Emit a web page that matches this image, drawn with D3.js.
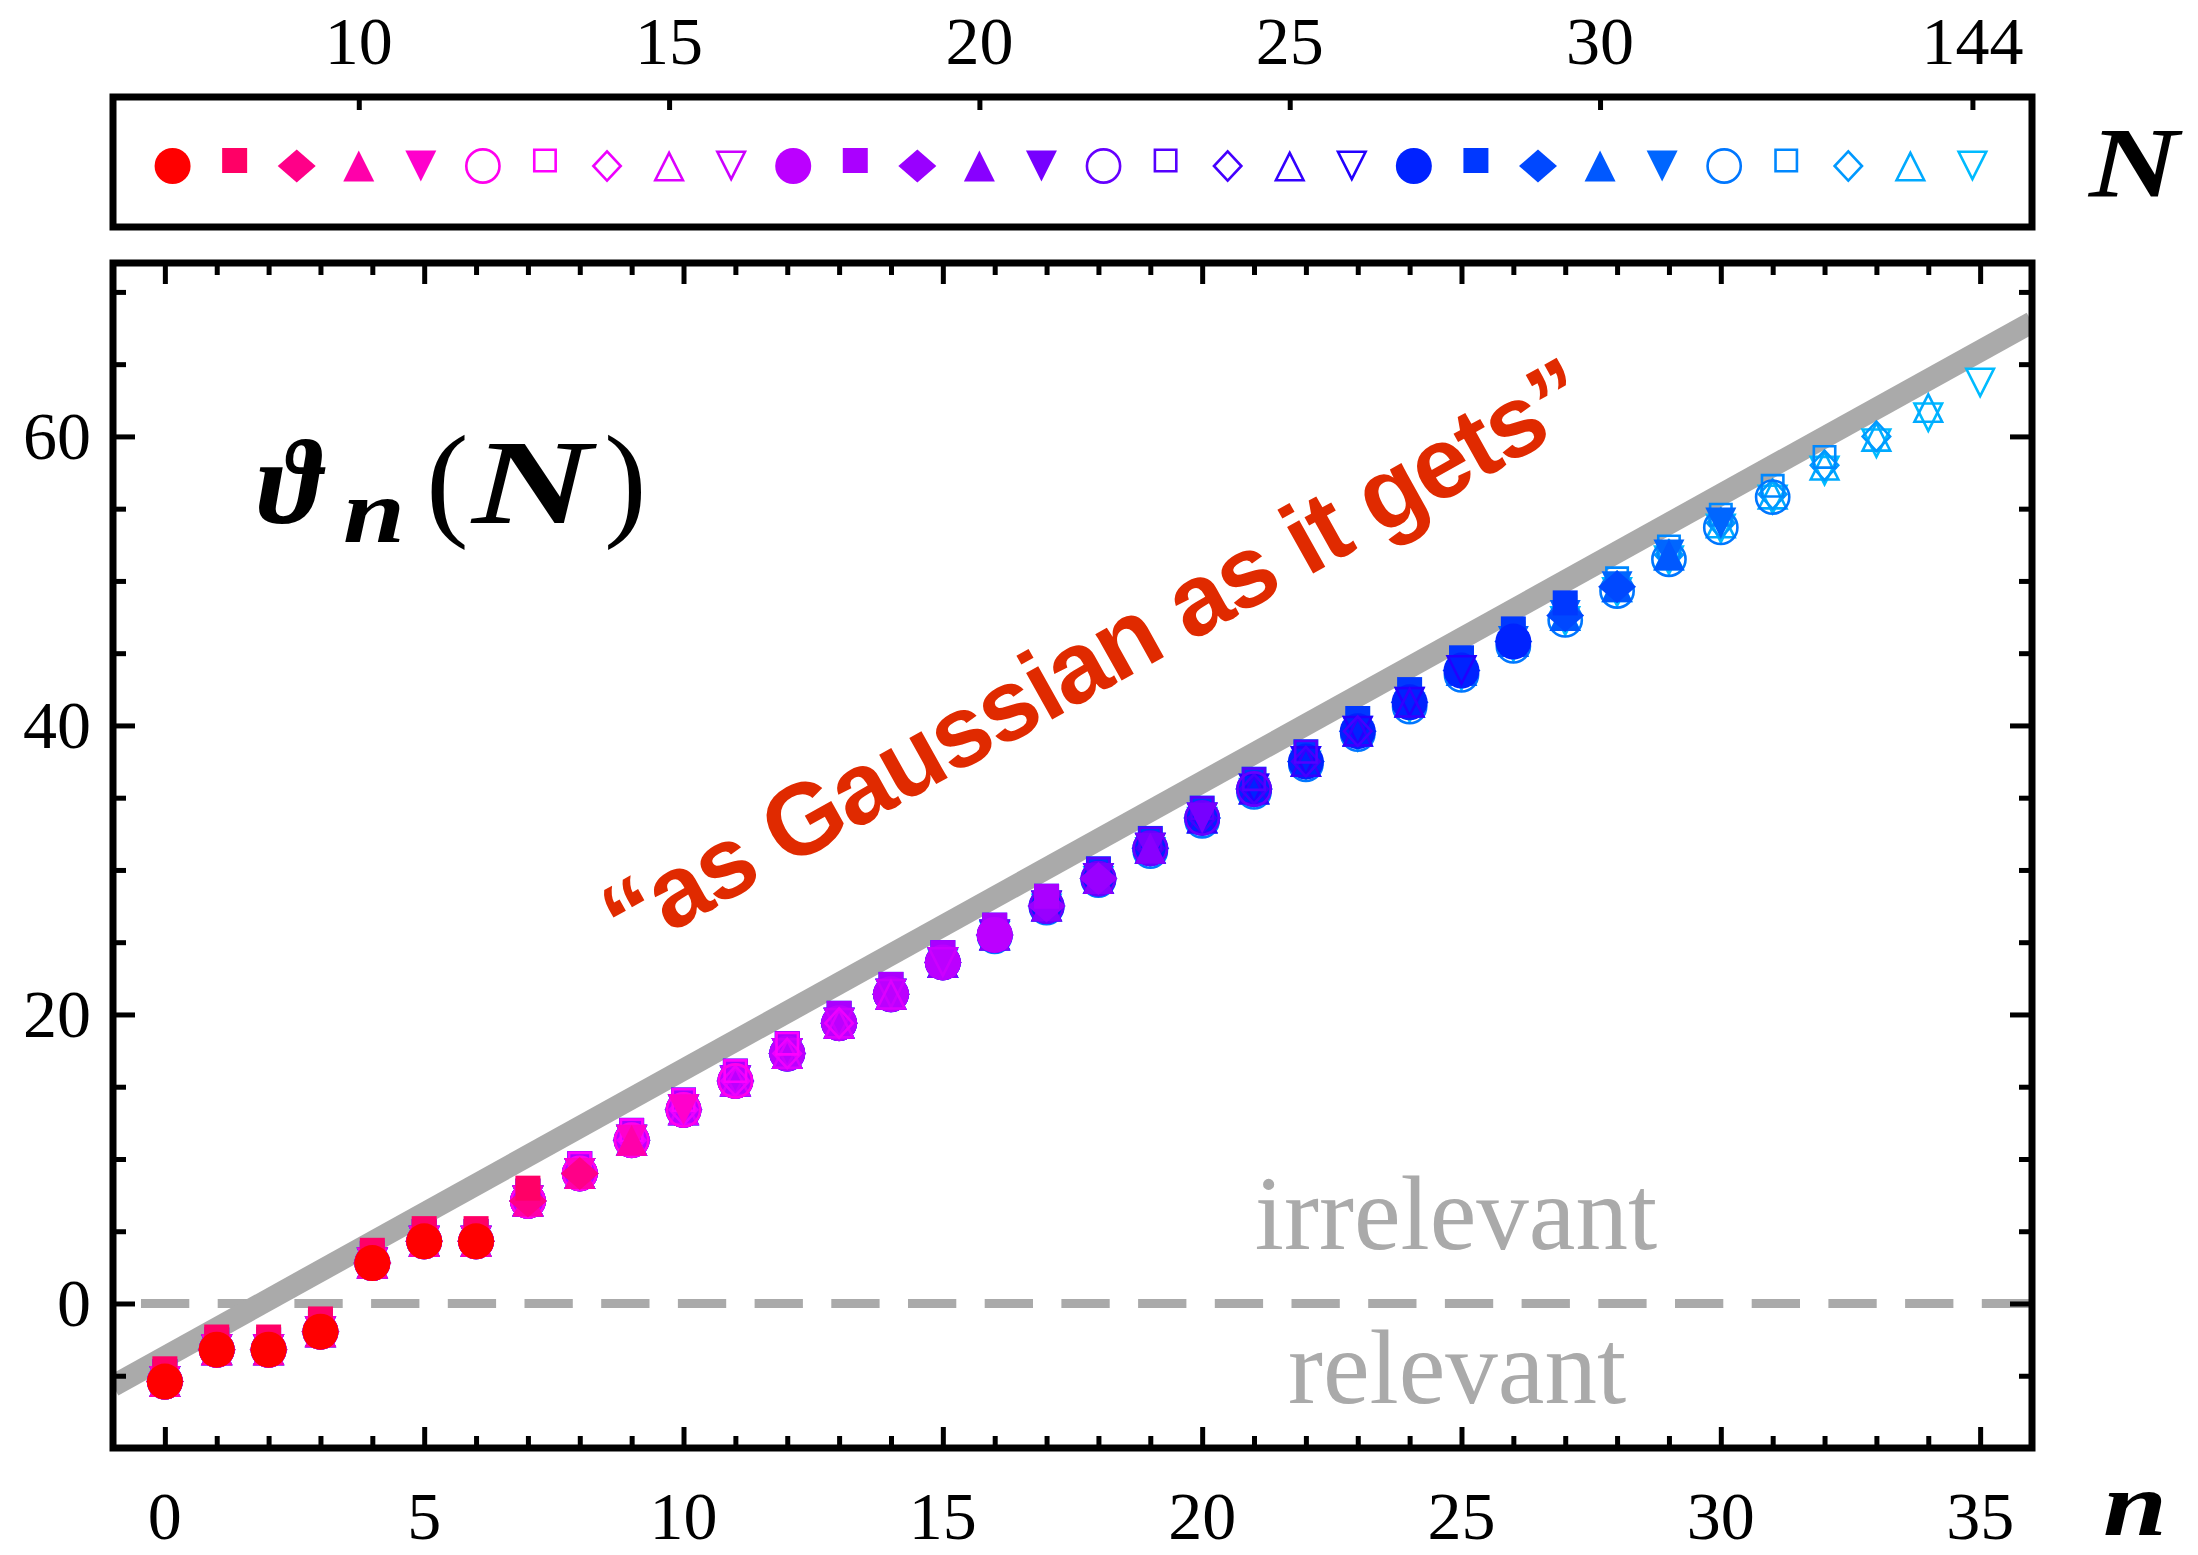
<!DOCTYPE html>
<html><head><meta charset="utf-8">
<script src="https://cdn.jsdelivr.net/npm/d3@7"></script>
<style>body{margin:0;background:#fff}svg{display:block}</style>
</head><body>
<svg id="chart" width="2198" height="1555"></svg>
<script>
// ---------------- data ----------------
const legendN = [7,8,9,10,11,12,13,14,15,16,17,18,19,20,21,22,23,24,25,26,27,28,29,30,31,32,33,34,35,144];
const legendTickN = [10,15,20,25,30,144];
const markerColors = ["#ff0000","#ff0066","#ff0088","#ff00aa","#ff00cc","#ff00ee","#ff00ff","#ee00ff","#dd00ff","#cc00ff",
  "#bb00ff","#aa00ff","#9900ff","#8800ff","#7700ff","#6600ff","#5500ff","#4400ff","#3300ff","#2200ff",
  "#0022ff","#0038ff","#0048ff","#0058ff","#0066ff","#0077ff","#0088ff","#0099ff","#00aaff","#00bbff"];
// values shared (indistinguishable) by most N, for n = 0..34
const thetaShared = [-5.4,-3.2,-3.2,-1.95,2.8,4.3,4.3,7.1,9.0,11.3,13.4,15.4,17.3,19.4,21.4,23.6,25.5,27.5,29.4,31.5,33.6,35.6,37.5,39.6,41.6,43.8,45.8,47.6,49.6,51.8,54.0,56.0,58.0,60.0,62.0];
const sharedN = [7,9,10,11,12,14,15,16,17,19,20,21,22,24,25,26,27,29,30,31,34,35];
const theta8 = [-4.9,-2.7,-2.7,-1.45,3.3,4.8,4.8,7.6];
const theta13 = [-5.1,-2.9,-2.9,-1.65,3.1,4.6,4.6,7.4,9.3,11.6,13.7,15.7,17.6];
const theta18 = [-5.1,-2.9,-2.9,-1.65,3.1,4.6,4.6,7.4,9.3,11.6,13.7,15.7,17.6,19.7,21.7,23.9,25.8,27.8];
const theta23 = [-5.1,-2.9,-2.9,-1.65,3.1,4.6,4.6,7.4,9.3,11.6,13.7,15.7,17.6,19.7,21.7,23.9,25.8,27.8,29.7,31.8,33.9,35.9,37.8];
const theta28 = [-5.1,-2.9,-2.9,-1.65,3.1,4.6,4.6,7.4,9.3,11.6,13.7,15.7,17.6,19.7,21.7,23.9,25.8,27.8,29.7,31.8,33.9,35.9,37.8,40.1,42.1,44.3,46.3,48.1];
const theta32 = [-5.4,-3.2,-3.2,-1.95,2.8,4.3,4.3,7.1,9.0,11.3,13.4,15.4,17.3,19.4,21.4,23.6,25.4,27.4,29.3,31.3,33.4,35.4,37.3,39.4,41.3,43.5,45.5,47.3,49.3,51.5,53.7,55.8];
const theta33 = [-5.2,-3.0,-3.0,-1.75,3.0,4.5,4.5,7.3,9.2,11.5,13.6,15.6,17.5,19.6,21.6,23.8,25.7,27.7,29.6,31.7,33.8,35.8,37.7,39.8,41.8,44.0,46.0,47.8,49.8,52.0,54.2,56.2,58.2];
const theta144 = [-5.4,-3.2,-3.2,-1.95,2.8,4.3,4.3,7.1,9.0,11.3,13.4,15.4,17.3,19.4,21.4,23.5,25.4,27.3,29.2,31.2,33.3,35.3,37.2,39.2,41.2,43.4,45.4,47.2,49.2,51.4,53.6,55.6,57.6,59.5,61.3,63.7];
const lineN = [-1, 36];
const lineTheta = [-5.7, 67.9];
const xMajorTicks = [0,5,10,15,20,25,30,35];
const yMajorTicks = [0,20,40,60];
const yMinorTicks = [-5,5,10,15,25,30,35,45,50,55,65,70];

const explicitRows = {8:theta8,13:theta13,18:theta18,23:theta23,28:theta28,32:theta32,33:theta33,144:theta144};

// ---------------- setup ----------------
const svg = d3.select("#chart");
const L = 113, R = 2032, T = 263, B = 1448;
const x = d3.scaleLinear().domain([-1, 36]).range([L, R]);
const y = d3.scaleLinear().domain([-10, 72]).range([B, T]);
const lx = d3.scaleLinear().domain([-0.96, 29.96]).range([L, R]);
const serif = "'Liberation Serif','DejaVu Serif',serif";

function markerPath(i) {
  const s = i % 5, filled = (i % 10) < 5;
  const p = d3.path();
  if (filled) {
    if (s === 0) { p.moveTo(18, 0); p.arc(0, 0, 18, 0, 2 * Math.PI); }
    else if (s === 1) { p.rect(-12.5, -12.5, 25, 25); }
    else if (s === 2) { p.moveTo(0, -16.5); p.lineTo(19, 0); p.lineTo(0, 16.5); p.lineTo(-19, 0); }
    else if (s === 3) { p.moveTo(0, -15.5); p.lineTo(15.5, 15.5); p.lineTo(-15.5, 15.5); }
    else { p.moveTo(0, 15.5); p.lineTo(15.5, -15.5); p.lineTo(-15.5, -15.5); }
  } else {
    if (s === 0) { p.moveTo(16.6, 0); p.arc(0, 0, 16.6, 0, 2 * Math.PI); }
    else if (s === 1) { p.rect(-10.7, -10.7, 21.4, 21.4); }
    else if (s === 2) { p.moveTo(0, -14.7); p.lineTo(13.7, 0); p.lineTo(0, 14.7); p.lineTo(-13.7, 0); }
    else if (s === 3) { p.moveTo(0, -13.2); p.lineTo(13.8, 14.2); p.lineTo(-13.8, 14.2); }
    else { p.moveTo(0, 13.2); p.lineTo(13.8, -14.2); p.lineTo(-13.8, -14.2); }
  }
  p.closePath();
  return p.toString();
}
const markerDy = i => (i % 5 === 1 ? -5.5 : 0);
function styleMarker(sel, i) {
  const filled = (i % 10) < 5;
  sel.attr("d", markerPath(i))
     .attr("fill", filled ? markerColors[i] : "none")
     .attr("stroke", filled ? "none" : markerColors[i])
     .attr("stroke-width", filled ? 0 : 2.6)
     .attr("stroke-linejoin", "miter");
}

// ---------------- legend box ----------------
const leg = svg.append("g");
legendN.forEach((N, i) => {
  leg.append("path").attr("transform", `translate(${lx(i)},${166 + markerDy(i)})`).call(styleMarker, i);
});
leg.append("g").attr("transform", `translate(0,${97})`)
  .call(d3.axisTop(lx).tickValues(legendTickN.map(N => legendN.indexOf(N))).tickSize(-13).tickFormat(""))
  .call(g => g.select(".domain").remove())
  .call(g => g.selectAll("line").attr("stroke", "#000").attr("stroke-width", 5));
leg.selectAll("text.ntick").data(legendTickN).join("text").attr("class", "ntick")
  .attr("x", N => lx(legendN.indexOf(N))).attr("y", 64)
  .attr("text-anchor", "middle").attr("font-family", serif).attr("font-size", 68).text(N => N);
leg.append("rect").attr("x", L).attr("y", 97).attr("width", R - L).attr("height", 130)
  .attr("fill", "none").attr("stroke", "#000").attr("stroke-width", 7);
svg.append("text").attr("x", 2089).attr("y", 196).attr("font-family", serif)
  .attr("font-weight", "bold").attr("font-style", "italic").attr("font-size", 100)
  .attr("textLength", 90).attr("lengthAdjust", "spacingAndGlyphs").text("N");

// ---------------- main plot ----------------
svg.append("defs").append("clipPath").attr("id", "clip")
  .append("rect").attr("x", L).attr("y", T).attr("width", R - L).attr("height", B - T);
const plot = svg.append("g").attr("clip-path", "url(#clip)");

// dashed zero line
plot.append("line").attr("x1", x(-1)).attr("x2", x(36)).attr("y1", y(0)).attr("y2", y(0))
  .attr("stroke", "#aaaaaa").attr("stroke-width", 9).attr("stroke-dasharray", "48.3 28.4").attr("stroke-dashoffset", 48.7);
// gaussian line
plot.append("path").datum(lineN.map((n, k) => [n, lineTheta[k]]))
  .attr("d", d3.line().x(d => x(d[0])).y(d => y(d[1])))
  .attr("stroke", "#aaaaaa").attr("stroke-width", 22).attr("fill", "none");

// text labels
svg.append("text").attr("x", 1456).attr("y", 1249).attr("text-anchor", "middle")
  .attr("font-family", serif).attr("font-size", 105).attr("fill", "#aaaaaa").text("irrelevant");
svg.append("text").attr("x", 1457).attr("y", 1403).attr("text-anchor", "middle")
  .attr("font-family", serif).attr("font-size", 105).attr("fill", "#aaaaaa").text("relevant");
svg.append("text").attr("transform", "translate(627,957) rotate(-29.2)")
  .attr("font-family", "'Liberation Sans',Arial,Helvetica,sans-serif").attr("font-weight", "bold")
  .attr("font-size", 101).attr("letter-spacing", -2.2).attr("fill", "#e02a00").text("\u201cas Gaussian as it gets\u201d");

// data points: larger N drawn first, smallest N on top
const series = legendN.map((N, i) => ({N, i, values: explicitRows[N] || (sharedN.includes(N) ? thetaShared.slice(0, N) : [])}));
const pts = plot.append("g");
series.slice().reverse().forEach(s => {
  pts.append("g").selectAll("path").data(s.values).join("path")
    .attr("transform", (v, n) => `translate(${x(n)},${y(v) + markerDy(s.i)})`)
    .each(function () { d3.select(this).call(styleMarker, s.i); });
});

// ticks
function ticks(axis, tf, vals, size) {
  svg.append("g").attr("transform", tf)
    .call(axis.tickValues(vals).tickSize(-size).tickFormat(""))
    .call(g => g.select(".domain").remove())
    .call(g => g.selectAll("line").attr("stroke", "#000").attr("stroke-width", 5));
}
const xMinor = d3.range(0, 36).filter(v => v % 5 !== 0);
ticks(d3.axisBottom(x), `translate(0,${B})`, xMajorTicks, 21);
ticks(d3.axisBottom(x), `translate(0,${B})`, xMinor, 12);
ticks(d3.axisTop(x), `translate(0,${T})`, xMajorTicks, 21);
ticks(d3.axisTop(x), `translate(0,${T})`, xMinor, 12);
ticks(d3.axisLeft(y), `translate(${L},0)`, yMajorTicks, 22);
ticks(d3.axisLeft(y), `translate(${L},0)`, yMinorTicks, 13);
ticks(d3.axisRight(y), `translate(${R},0)`, yMajorTicks, 22);
ticks(d3.axisRight(y), `translate(${R},0)`, yMinorTicks, 13);

svg.append("rect").attr("x", L).attr("y", T).attr("width", R - L).attr("height", B - T)
  .attr("fill", "none").attr("stroke", "#000").attr("stroke-width", 7);

// tick labels
svg.selectAll("text.xl").data(xMajorTicks).join("text").attr("class", "xl")
  .attr("x", d => x(d)).attr("y", 1539).attr("text-anchor", "middle")
  .attr("font-family", serif).attr("font-size", 68).text(d => d);
svg.selectAll("text.yl").data(yMajorTicks).join("text").attr("class", "yl")
  .attr("x", 91).attr("y", d => y(d) + 23).attr("text-anchor", "end")
  .attr("font-family", serif).attr("font-size", 68).text(d => d);
svg.append("text").attr("x", 2103).attr("y", 1535).attr("font-family", serif)
  .attr("font-weight", "bold").attr("font-style", "italic").attr("font-size", 90)
  .attr("textLength", 64).attr("lengthAdjust", "spacingAndGlyphs").text("n");

// theta_n(N) label
const lab = svg.append("g").attr("font-family", serif);
lab.append("text").attr("x", 258).attr("y", 523).attr("font-weight", "bold").attr("font-style", "italic").attr("font-size", 120).text("\u03d1");
lab.append("text").attr("x", 343).attr("y", 542).attr("font-weight", "bold").attr("font-style", "italic").attr("font-size", 90)
  .attr("textLength", 62).attr("lengthAdjust", "spacingAndGlyphs").text("n");
lab.append("text").attr("x", 426).attr("y", 523).attr("font-size", 128).text("(");
lab.append("text").attr("x", 472).attr("y", 523).attr("font-weight", "bold").attr("font-style", "italic").attr("font-size", 120)
  .attr("textLength", 120).attr("lengthAdjust", "spacingAndGlyphs").text("N");
lab.append("text").attr("x", 604).attr("y", 523).attr("font-size", 128).text(")");
</script>
</body></html>
